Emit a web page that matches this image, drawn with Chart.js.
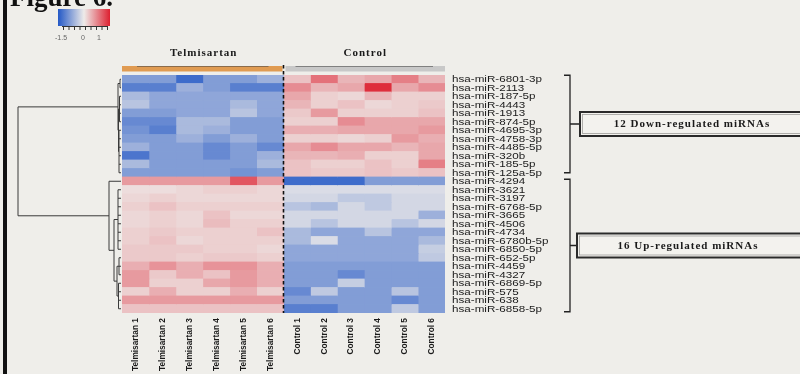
<!DOCTYPE html>
<html><head><meta charset="utf-8">
<script src="https://cdn.jsdelivr.net/npm/chart.js@4"></script>
<style>html,body{margin:0;padding:0;background:#efeeea;}canvas{display:block}</style>
</head><body>
<canvas id="c" width="800" height="374"></canvas>
<script>
const miRNAs = ['hsa-miR-6801-3p','hsa-miR-2113','hsa-miR-187-5p','hsa-miR-4443','hsa-miR-1913','hsa-miR-874-5p','hsa-miR-4695-3p','hsa-miR-4758-3p','hsa-miR-4485-5p','hsa-miR-320b','hsa-miR-185-5p','hsa-miR-125a-5p',
'hsa-miR-4294','hsa-miR-3621','hsa-miR-3197','hsa-miR-6768-5p','hsa-miR-3665','hsa-miR-4506','hsa-miR-4734','hsa-miR-6780b-5p','hsa-miR-6850-5p','hsa-miR-652-5p','hsa-miR-4459','hsa-miR-4327','hsa-miR-6869-5p','hsa-miR-575','hsa-miR-638','hsa-miR-6858-5p'];
const samples = ['Telmisartan 1','Telmisartan 2','Telmisartan 3','Telmisartan 4','Telmisartan 5','Telmisartan 6','Control 1','Control 2','Control 3','Control 4','Control 5','Control 6'];
const groups = ['Telmisartan','Control'];
const telmisartanZ = [
[-0.8,-0.8,-1.3,-0.8,-0.8,-0.6],
[-1.1,-1.1,-0.6,-0.8,-1.1,-1.1],
[-0.5,-0.7,-0.7,-0.7,-0.7,-0.7],
[-0.4,-0.7,-0.7,-0.7,-0.5,-0.7],
[-0.8,-0.8,-0.7,-0.7,-0.4,-0.7],
[-1.0,-1.0,-0.5,-0.5,-0.8,-0.8],
[-0.9,-1.1,-0.5,-0.6,-0.8,-0.8],
[-0.8,-0.8,-0.6,-0.8,-0.6,-0.8],
[-0.6,-0.8,-0.8,-1.0,-0.8,-1.0],
[-1.2,-0.8,-0.8,-1.0,-0.8,-0.6],
[-0.5,-0.8,-0.8,-0.8,-0.8,-0.5],
[-0.8,-0.8,-0.8,-0.8,-0.9,-0.8],
[0.6,0.6,0.6,0.6,1.1,0.6],
[0.1,0.1,0.15,0.2,0.2,0.15],
[0.15,0.2,0.15,0.15,0.15,0.15],
[0.2,0.3,0.2,0.2,0.2,0.2],
[0.15,0.2,0.15,0.3,0.15,0.15],
[0.15,0.2,0.15,0.35,0.2,0.2],
[0.2,0.25,0.2,0.2,0.2,0.3],
[0.2,0.3,0.15,0.2,0.2,0.2],
[0.25,0.25,0.25,0.2,0.2,0.15],
[0.25,0.25,0.2,0.25,0.25,0.2],
[0.45,0.65,0.45,0.65,0.65,0.45],
[0.6,0.25,0.45,0.3,0.6,0.45],
[0.6,0.2,0.2,0.5,0.6,0.45],
[0.2,0.45,0.2,0.2,0.45,0.2],
[0.6,0.6,0.6,0.6,0.6,0.6],
[0.3,0.3,0.3,0.3,0.3,0.3]
];
const controlZ = [
[0.3,0.9,0.4,0.5,0.8,0.4],
[0.7,0.4,0.5,1.4,0.5,0.7],
[0.5,0.2,0.15,0.4,0.2,0.2],
[0.4,0.2,0.3,0.15,0.2,0.25],
[0.25,0.6,0.2,0.2,0.2,0.3],
[0.2,0.2,0.7,0.5,0.5,0.5],
[0.45,0.45,0.5,0.5,0.5,0.6],
[0.2,0.2,0.15,0.2,0.6,0.45],
[0.5,0.7,0.5,0.5,0.4,0.5],
[0.4,0.4,0.45,0.2,0.2,0.5],
[0.3,0.2,0.2,0.3,0.2,0.8],
[0.3,0.25,0.25,0.3,0.25,0.3],
[-1.3,-1.3,-1.3,-0.8,-0.8,-0.8],
[-0.15,-0.15,-0.15,-0.15,-0.15,-0.15],
[-0.2,-0.2,-0.35,-0.35,-0.2,-0.2],
[-0.4,-0.5,-0.2,-0.35,-0.2,-0.2],
[-0.2,-0.2,-0.2,-0.2,-0.2,-0.6],
[-0.2,-0.4,-0.2,-0.2,-0.4,-0.2],
[-0.5,-0.7,-0.7,-0.4,-0.7,-0.7],
[-0.5,-0.15,-0.7,-0.7,-0.7,-0.5],
[-0.7,-0.7,-0.7,-0.7,-0.7,-0.3],
[-0.7,-0.7,-0.7,-0.7,-0.7,-0.35],
[-0.8,-0.8,-0.8,-0.8,-0.8,-0.8],
[-0.8,-0.8,-1.0,-0.8,-0.8,-0.8],
[-0.8,-0.8,-0.3,-0.8,-0.8,-0.8],
[-1.0,-0.35,-0.8,-0.8,-0.4,-0.8],
[-0.8,-0.8,-0.8,-0.8,-1.0,-0.8],
[-1.1,-1.1,-0.8,-0.8,-0.35,-0.8]
];
const legendTickLabels = ['-1.5','0','1'];
const legendTickValues = [-1.5,0,1];
const clusterLabels = ['12 Down-regulated miRNAs','16 Up-regulated miRNAs'];
const clusterRanges = [[0,11],[12,27]];

function zColor(v){
  const lo=[35,88,198], mid=[238,235,233], hi=[221,32,48];
  const t=Math.max(-1,Math.min(1,v/1.5));
  const e=t<0?lo:hi, k=Math.abs(t);
  const c=mid.map((m,i)=>Math.round(m+(e[i]-m)*k));
  return 'rgb('+c.join(',')+')';
}
function cellValue(i,j){ return j<6 ? telmisartanZ[i][j] : controlZ[i][j-6]; }

const datasets = samples.map((s,j)=>({
  label:s,
  data: miRNAs.map(()=>[j,j+1]),
  backgroundColor: miRNAs.map((m,i)=>zColor(cellValue(i,j))),
  borderWidth:0, grouped:false, barPercentage:1, categoryPercentage:1, inflateAmount:0.4
}));

// dendrogram structure (leaves are row indices, h = merge height)
const dendro = {h:103, c:[
  {h:3, c:[{h:1, c:[0,1]}, {h:2.5, c:[{h:1.5, c:[2,3,4,5]}, {h:2, c:[6,7,8,9,10,11]}]}]},
  {h:12, c:[12, {h:7, c:[{h:3, c:[13,14,15,16,17,18,19,20]}, {h:4, c:[{h:2, c:[21,22,23]}, {h:2.5, c:[24,25,26,27]}]}]}]}
]};

function txt(ctx,s,x,y,font,color,align,sx,spacing,baseline){
  ctx.save(); ctx.font=font; ctx.fillStyle=color; ctx.textAlign=align||'left';
  ctx.textBaseline=baseline||'middle';
  if(spacing) ctx.letterSpacing=spacing+'px';
  ctx.translate(x,y); ctx.scale(sx||1,1); ctx.fillText(s,0,0); ctx.restore();
}

const deco = {
  id:'deco',
  beforeDraw(chart){
    const ctx=chart.ctx; ctx.save(); ctx.fillStyle='#efeeea'; ctx.fillRect(0,0,chart.width,chart.height); ctx.restore();
  },
  afterDraw(chart){
    const {ctx, chartArea:a, scales:{x,y}} = chart;
    // left frame line
    ctx.save(); ctx.fillStyle='#111'; ctx.fillRect(3,0,4,chart.height); ctx.restore();
    // figure title (clipped at top)
    txt(ctx,'Figure 6.',10,6,'bold 27px "Liberation Serif", serif','#111','left',1,0,'alphabetic');
    // colour key
    const gx0=58, gx1=110, gy0=9, gy1=26;
    const g=ctx.createLinearGradient(gx0,0,gx1,0);
    g.addColorStop(0,zColor(-1.5)); g.addColorStop(0.5,zColor(0)); g.addColorStop(1,zColor(1.5));
    ctx.save(); ctx.fillStyle=g; ctx.fillRect(gx0,gy0,gx1-gx0,gy1-gy0);
    ctx.strokeStyle='#333'; ctx.lineWidth=1;
    for(let k=0;k<9;k++){ const tx=63.5+k*5.5; ctx.beginPath(); ctx.moveTo(tx,gy1); ctx.lineTo(tx,gy1+4); ctx.stroke(); }
    ctx.beginPath(); ctx.moveTo(62,gy1+0.5); ctx.lineTo(108,gy1+0.5); ctx.stroke();
    ctx.restore();
    legendTickLabels.forEach((l,k)=>{
      const tx=83+legendTickValues[k]*16;
      txt(ctx,l,tx+(k===0?2:0),38,'7px "Liberation Sans", Arial','#666','center');
    });
    // group annotation bars
    const xL=x.getPixelForValue(0), xM=x.getPixelForValue(6), xR=x.getPixelForValue(12);
    ctx.save();
    ctx.fillStyle='#e09b52'; ctx.fillRect(xL,66,xM-xL-1,5.5);
    ctx.fillStyle='#c8c8c8'; ctx.fillRect(xM+2,66,xR-xM-2,5.5);
    ctx.strokeStyle='rgba(70,70,70,0.55)'; ctx.lineWidth=1;
    ctx.beginPath(); ctx.moveTo(xL+15,66.5); ctx.lineTo(xM-15,66.5); ctx.moveTo(xM+12,66.5); ctx.lineTo(xR-12,66.5); ctx.stroke();
    ctx.restore();
    groups.forEach((gname,k)=>{
      const cx=(x.getPixelForValue(k*6)+x.getPixelForValue(k*6+6))/2+1;
      txt(ctx,gname,cx,53,'bold 11px "Liberation Serif", serif','#1a1a1a','center',1,1);
    });
    // dashed divider
    ctx.save(); ctx.strokeStyle='#111'; ctx.lineWidth=1.6; ctx.setLineDash([3.5,2.5]);
    ctx.beginPath(); ctx.moveTo(xM,65); ctx.lineTo(xM,a.bottom); ctx.stroke(); ctx.restore();
    // row labels
    ctx.save(); ctx.font='9px "Liberation Sans", Arial';
    const rs=90/ctx.measureText('hsa-miR-6801-3p').width; ctx.restore();
    miRNAs.forEach((m,i)=>{
      txt(ctx,m,a.right+7,y.getPixelForValue(i)+0.5,'9px "Liberation Sans", Arial','#1a1a1a','left',rs);
    });
    // column labels (rotated)
    ctx.save(); ctx.font='bold 9.5px "Liberation Sans", Arial';
    const cs=53/ctx.measureText('Telmisartan 1').width; ctx.restore();
    samples.forEach((s,j)=>{
      const cx=x.getPixelForValue(j+0.5);
      ctx.save(); ctx.translate(cx,a.bottom+5); ctx.rotate(-Math.PI/2); ctx.scale(cs,1);
      ctx.font='bold 9.5px "Liberation Sans", Arial'; ctx.fillStyle='#1a1a1a';
      ctx.textAlign='right'; ctx.textBaseline='middle'; ctx.fillText(s,0,0); ctx.restore();
    });
    // dendrogram
    const edge=a.left-1;
    ctx.save(); ctx.strokeStyle='#3a3a3a'; ctx.lineWidth=1;
    function node(n){
      if(typeof n==='number') return {x:edge, y:y.getPixelForValue(n)};
      const ch=n.c.map(node); const nx=edge-n.h;
      ctx.beginPath();
      ch.forEach(p=>{ctx.moveTo(nx,p.y); ctx.lineTo(p.x,p.y);});
      ctx.moveTo(nx,ch[0].y); ctx.lineTo(nx,ch[ch.length-1].y);
      ctx.stroke();
      return {x:nx, y:(ch[0].y+ch[ch.length-1].y)/2};
    }
    node(dendro); ctx.restore();
    // brackets and summary boxes
    clusterRanges.forEach((r,k)=>{
      const top=y.getPixelForValue(r[0])-(k===0?4:2), bot=y.getPixelForValue(r[1])+(k===0?0:3);
      const bx=570, mid=(top+bot)/2, boxL=k===0?580:577;
      ctx.save(); ctx.strokeStyle='#222'; ctx.lineWidth=1.3;
      ctx.beginPath(); ctx.moveTo(564,top); ctx.lineTo(bx,top); ctx.lineTo(bx,bot); ctx.lineTo(564,bot);
      ctx.moveTo(bx,mid); ctx.lineTo(boxL,mid); ctx.stroke();
      ctx.fillStyle='#f3f2ee'; ctx.fillRect(boxL,mid-12,230,24);
      ctx.lineWidth=2; ctx.strokeStyle='#2a2a2a'; ctx.strokeRect(boxL,mid-12,230,24);
      ctx.lineWidth=0.8; ctx.strokeStyle='rgba(0,0,0,0.35)'; ctx.strokeRect(boxL+2.5,mid-9.5,230,19);
      ctx.restore();
      txt(ctx,clusterLabels[k],k===0?692:688,mid+0.5,'bold 11px "Liberation Serif", serif','#1a1a1a','center',1,1);
    });
  }
};

new Chart(document.getElementById('c'),{
  type:'bar',
  data:{labels:miRNAs, datasets},
  options:{
    indexAxis:'y', responsive:false, animation:false,
    layout:{padding:{left:122,right:355,top:75,bottom:61}},
    scales:{
      x:{type:'linear',min:0,max:12,display:false},
      y:{type:'category',display:false,offset:true}
    },
    plugins:{legend:{display:false},tooltip:{enabled:false}}
  },
  plugins:[deco]
});
</script>
</body></html>
